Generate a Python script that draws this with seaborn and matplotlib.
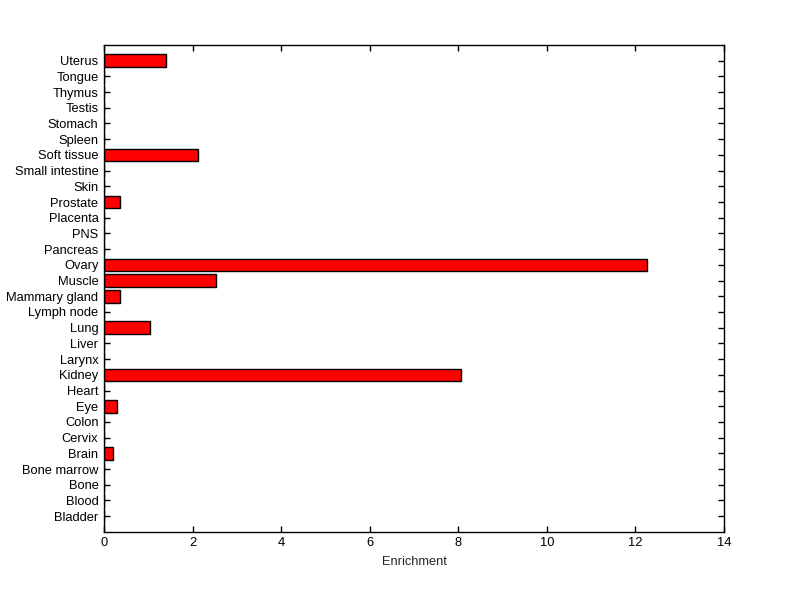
import pandas as pd
import seaborn as sns
import matplotlib.pyplot as plt

tissues = [
    "Uterus", "Tongue", "Thymus", "Testis", "Stomach", "Spleen", "Soft tissue",
    "Small intestine", "Skin", "Prostate", "Placenta", "PNS", "Pancreas", "Ovary",
    "Muscle", "Mammary gland", "Lymph node", "Lung", "Liver", "Larynx", "Kidney",
    "Heart", "Eye", "Colon", "Cervix", "Brain", "Bone marrow", "Bone", "Blood",
    "Bladder",
]
enrichment = [
    1.39, 0, 0, 0, 0, 0, 2.13,
    0, 0, 0.35, 0, 0, 0, 12.25,
    2.52, 0.35, 0, 1.03, 0, 0, 8.05,
    0, 0.29, 0, 0, 0.20, 0, 0, 0,
    0,
]

df = pd.DataFrame({"Tissue": tissues, "Enrichment": enrichment})

sns.set_style("ticks")
plt.rcParams["font.family"] = ["Liberation Sans", "DejaVu Sans"]
plt.rcParams["font.size"] = 9.3

fig = plt.figure(figsize=(8, 5.99), dpi=100)
ax = fig.add_axes([0.13, 0.112, 0.775, 0.813])

sns.barplot(
    df, x="Enrichment", y="Tissue", order=tissues, orient="h",
    color="#ff0000", saturation=1, edgecolor="black", linewidth=1,
    width=0.8, ax=ax,
)

ax.set_xlim(0, 14)
ax.set_ylim(30, -1)
ax.set_xticks(range(0, 15, 2))
ax.set_ylabel("")
ax.set_xlabel("Enrichment", fontsize=9.3, labelpad=5)

for side in ["top", "right", "left", "bottom"]:
    ax.spines[side].set_visible(True)
    ax.spines[side].set_color("black")
    ax.spines[side].set_linewidth(1)

ax.tick_params(axis="both", direction="in", length=4, width=1, colors="black",
               labelsize=9.3, top=True, right=True, pad=4)

fig.savefig("out.png", dpi=100, facecolor="white")
